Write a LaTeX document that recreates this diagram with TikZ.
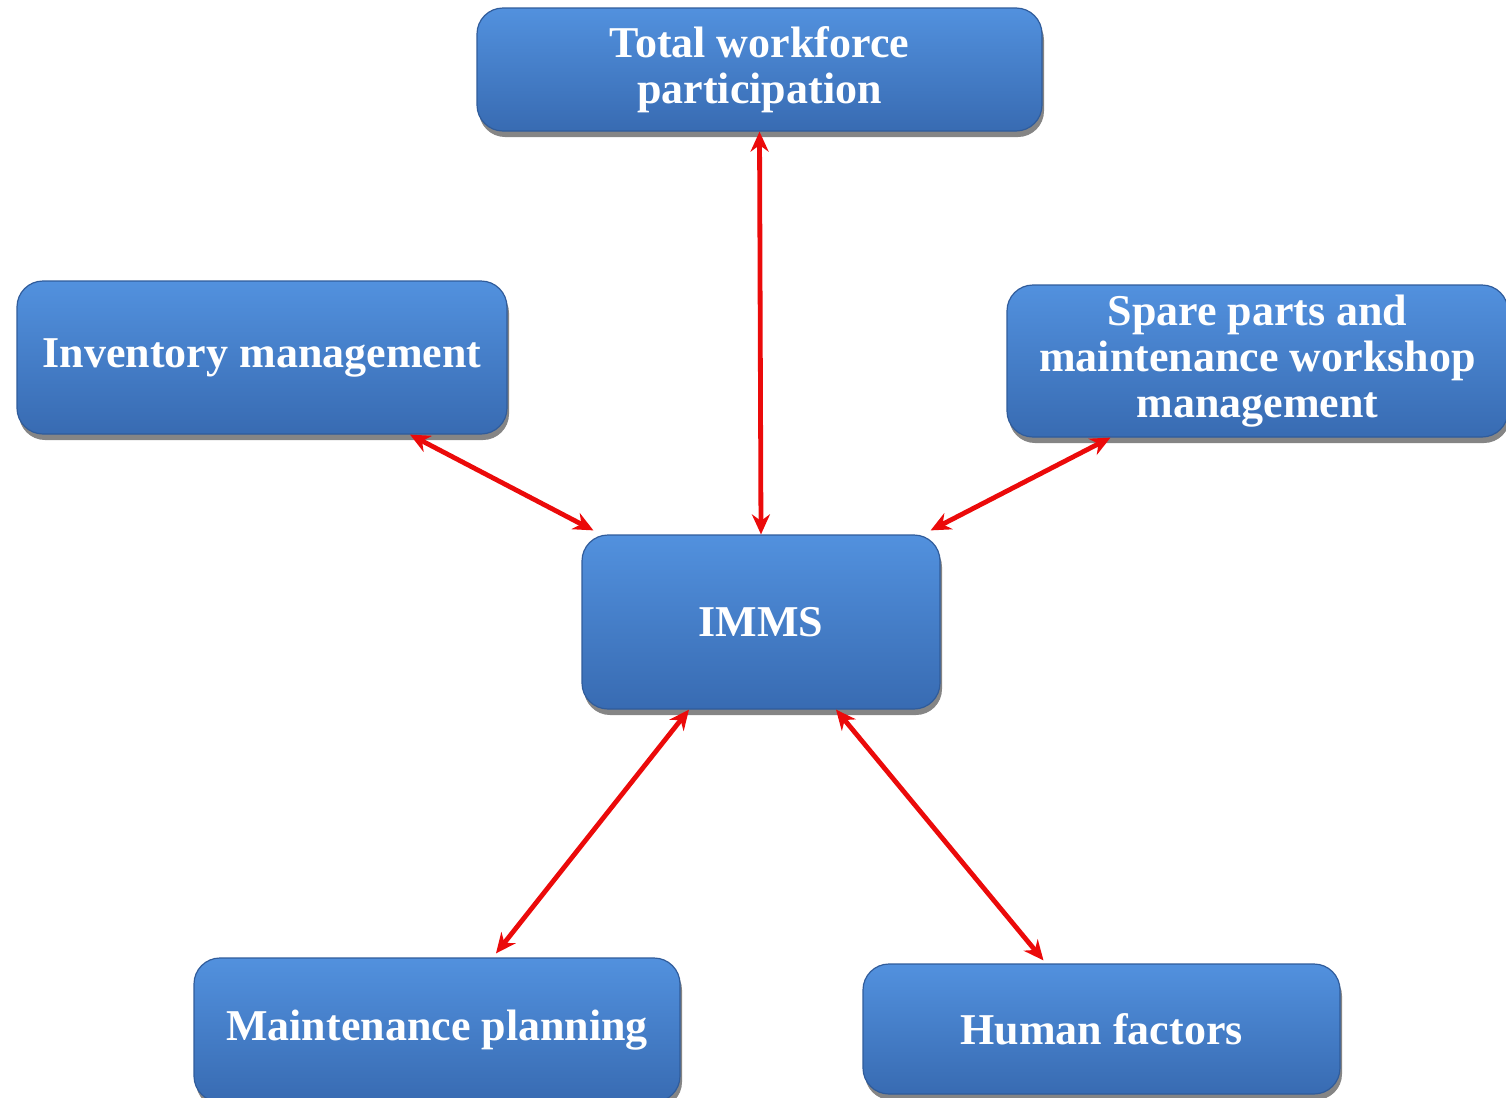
\documentclass[tikz,border=0pt]{standalone}
\usepackage{fontspec}
\setmainfont{Liberation Serif}
\usetikzlibrary{shadows,arrows.meta,calc}
\definecolor{boxtop}{RGB}{82,145,222}
\definecolor{boxbot}{RGB}{56,107,178}
\definecolor{boxedge}{RGB}{48,92,155}
\definecolor{arrred}{RGB}{235,10,10}
\tikzset{
  blockbox/.style={rounded corners=13pt, top color=boxtop, bottom color=boxbot,
    draw=boxedge, line width=0.6pt, text=white, align=center, inner sep=0pt,
    font=\fontsize{22}{23}\selectfont\bfseries,
    drop shadow={opacity=0.6, fill=black!80, shadow xshift=1pt, shadow yshift=-3pt}},
  arr/.style={draw=arrred, line width=2.4pt, {Stealth[length=10pt,width=9pt]}-{Stealth[length=10pt,width=9pt]}}
}
\begin{document}
\begin{tikzpicture}[x=0.5pt,y=-0.5pt]
\path[use as bounding box] (0,0) rectangle (1506,1098);
\node[blockbox, minimum width=282.5pt, minimum height=61.5pt] (top) at (759.5,69.5) {Total workforce\\participation};
\node[blockbox, minimum width=245pt, minimum height=76.5pt] (inv) at (262,357.5) {Inventory management};
\node[blockbox, minimum width=250.5pt, minimum height=76pt] (spare) at (1257.5,361) {Spare parts and\\maintenance workshop\\management};
\node[blockbox, minimum width=179pt, minimum height=87pt] (imms) at (761,622) {IMMS};
\node[blockbox, minimum width=243pt, minimum height=72pt] (maint) at (437,1030) {Maintenance planning};
\node[blockbox, minimum width=238.5pt, minimum height=65pt] (human) at (1101.5,1029) {Human factors};
\draw[arr] (top.south) -- (imms.north);
\draw[arr] ([xshift=74pt]inv.south) -- ([xshift=6pt,yshift=2pt]imms.north west);
\draw[arr] ([xshift=-73.5pt]spare.south) -- ([xshift=-5pt,yshift=2pt]imms.north east);
\draw[arr] ([xshift=-36pt]imms.south) -- ([xshift=29.5pt,yshift=2pt]maint.north);
\draw[arr] ([xshift=37.5pt]imms.south) -- ([xshift=-29pt,yshift=1.5pt]human.north);
\end{tikzpicture}
\end{document}
